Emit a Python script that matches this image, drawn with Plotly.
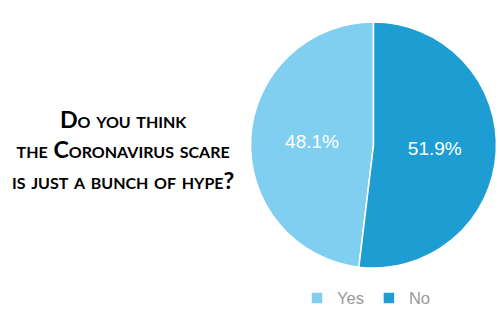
import plotly.graph_objects as go

labels = ["Yes", "No"]
values = [48.1, 51.9]
colors = ["#80cff0", "#1e9dd2"]
title_lines = ["Do you think", "the Coronavirus scare", "is just a bunch of hype?"]

# start "Yes" so that "No" begins at 12 o'clock going clockwise
start_angle = 360 - values[0] / sum(values) * 360

fig = go.Figure()
fig.add_trace(go.Pie(
    labels=labels,
    values=values,
    sort=False,
    direction="clockwise",
    rotation=start_angle,
    marker=dict(colors=colors, line=dict(color="white", width=1.5)),
    textinfo="percent",
    texttemplate="%{percent:.1%}",
    textposition="inside",
    insidetextorientation="horizontal",
    textfont=dict(family="Liberation Sans, Arial", size=19, color="white"),
    domain=dict(x=[0.501, 0.993], y=[0.2, 0.934]),
    hoverinfo="label+percent",
))

fig.add_annotation(
    x=0.246, y=0.555, xref="paper", yref="paper", xanchor="center", yanchor="middle",
    text="<br>".join(title_lines),
    showarrow=False, align="center",
    font=dict(family="Lato", size=23.3, color="black", weight=700, variant="small-caps"),
)

fig.update_layout(
    width=500, height=335,
    margin=dict(l=0, r=0, t=0, b=0),
    paper_bgcolor="white", plot_bgcolor="white",
    showlegend=True,
    legend=dict(orientation="h", x=0.733, y=0.11, xanchor="center", yanchor="middle",
                font=dict(family="Liberation Sans, Arial", size=16.5, color="#999999"),
                itemwidth=30, traceorder="normal"),
)

fig.write_html("out.html", config={"displayModeBar": False},
               post_script="document.body.style.margin='0px';")
